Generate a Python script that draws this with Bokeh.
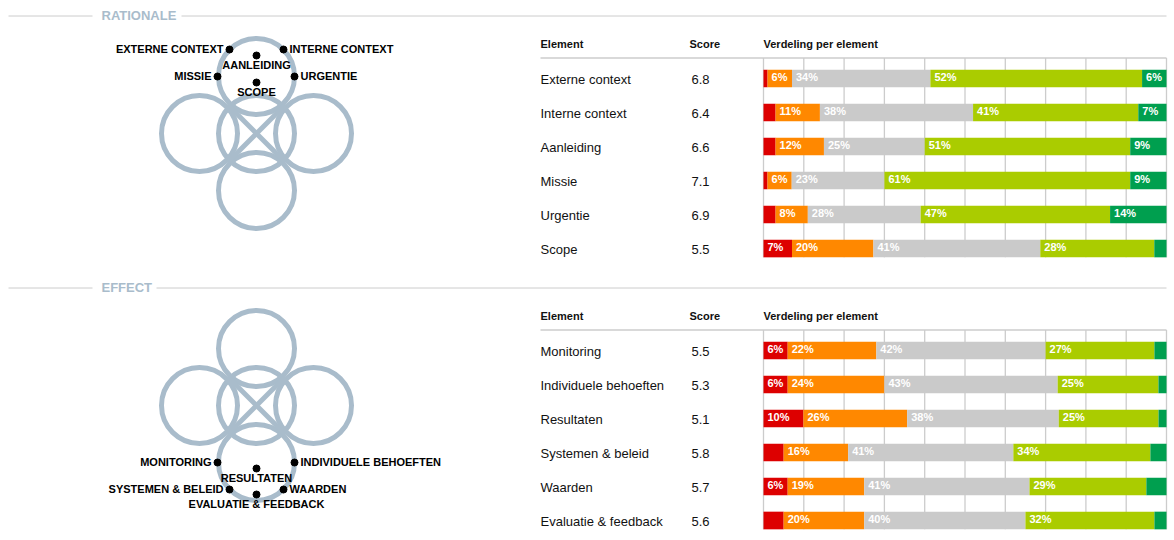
import numpy as np
from bokeh.plotting import figure
from bokeh.models import Range1d, ColumnDataSource
from bokeh.layouts import column
from bokeh.embed import file_html
from bokeh.resources import INLINE
from bokeh.core.properties import value

# ---------------- data ----------------
rat_elements = ["Externe context", "Interne context", "Aanleiding", "Missie", "Urgentie", "Scope"]
rat_scores = [6.8, 6.4, 6.6, 7.1, 6.9, 5.5]
rat_red = [1, 3, 3, 1, 3, 7]
rat_orange = [6, 11, 12, 6, 8, 20]
rat_grey = [34, 38, 25, 23, 28, 41]
rat_lgreen = [52, 41, 51, 61, 47, 28]
rat_dgreen = [6, 7, 9, 9, 14, 3]

eff_elements = ["Monitoring", "Individuele behoeften", "Resultaten", "Systemen & beleid", "Waarden", "Evaluatie & feedback"]
eff_scores = [5.5, 5.3, 5.1, 5.8, 5.7, 5.6]
eff_red = [6, 6, 10, 5, 6, 5]
eff_orange = [22, 24, 26, 16, 19, 20]
eff_grey = [42, 43, 38, 41, 41, 40]
eff_lgreen = [27, 25, 25, 34, 29, 32]
eff_dgreen = [3, 2, 2, 4, 5, 3]

rat_diagram_labels = ["EXTERNE CONTEXT", "INTERNE CONTEXT", "AANLEIDING", "MISSIE", "URGENTIE", "SCOPE"]
eff_diagram_labels = ["MONITORING", "INDIVIDUELE BEHOEFTEN", "RESULTATEN", "SYSTEMEN & BELEID", "WAARDEN", "EVALUATIE & FEEDBACK"]

header_labels = ["Element", "Score", "Verdeling per element"]
grid_ticks = list(range(0, 101, 10))

# ---------------- style / layout ----------------
FONT = "Liberation Sans"
W = 1174
BAR_X0, BAR_W = 763, 403
ROW0, ROW_H = 78, 34
BAR_HEIGHT = 0.52
COLORS = ["#dd0000", "#ff8800", "#cacaca", "#aacc00", "#009f4f"]
CIRCLE_COLOR = "#a9bccb"
LINE_COLOR = "#cccccc"
TEXT_COLOR = "#111111"

# diagram geometry (pixels within a section)
CX, CY, OFF, RAD = 256, 133, 57, 38

# label offsets from the anchoring circle, alignment
rat_diag = dict(anchor=(0, -OFF),
                dx=[-27, 27, 0, -39, 38, 0],
                dy=[-27, -27, -21, 0, 0, 6],
                align=["right", "left", "center", "right", "left", "center"])
eff_diag = dict(anchor=(0, OFF),
                dx=[-39, 38, 0, -27, 27, 0],
                dy=[0, 0, 6, 27, 27, 32],
                align=["right", "left", "center", "right", "left", "center"])


def make_section(title, line_start, H, elements, scores, parts, diag_labels, diag):
    p = figure(width=W, height=H, x_range=Range1d(0, W), y_range=Range1d(H, 0),
               output_backend="svg", toolbar_location=None,
               x_axis_type=None, y_axis_type=None, min_border=0)
    p.outline_line_color = None
    p.background_fill_color = "white"
    p.border_fill_color = "white"
    p.extra_x_ranges = {"pct": Range1d(-BAR_X0 / BAR_W * 100, (W - BAR_X0) / BAR_W * 100)}
    p.extra_y_ranges = {"rows": Range1d((H - ROW0) / ROW_H, -ROW0 / ROW_H)}

    # section header
    p.segment(x0=[8, line_start], x1=[92, 1166], y0=[15.5, 15.5], y1=[15.5, 15.5],
              line_color=LINE_COLOR, line_width=1)
    p.text(x=[101], y=[14.5], text=[title], text_font=value(FONT), text_font_style="bold",
           text_font_size="13px", text_color=CIRCLE_COLOR, text_baseline="middle")

    # diagram
    cxs = [CX, CX, CX - OFF, CX + OFF, CX]
    cys = [CY, CY - OFF, CY, CY, CY + OFF]
    p.circle(x=cxs, y=cys, radius=RAD, fill_color=None, line_color=CIRCLE_COLOR, line_width=5)
    d = 28.5
    p.segment(x0=[CX - d, CX + d], y0=[CY - d, CY - d], x1=[CX + d, CX - d], y1=[CY + d, CY + d],
              line_color=CIRCLE_COLOR, line_width=5)
    ax, ay = CX + diag["anchor"][0], CY + diag["anchor"][1]
    dot_x = [ax + v for v in diag["dx"]]
    dot_y = [ay + v for v in diag["dy"]]
    p.scatter(x=dot_x, y=dot_y, size=7, color="black")
    for lab, x, y, al in zip(diag_labels, dot_x, dot_y, diag["align"]):
        if al == "right":
            tx, ty = x - 6, y - 0.7
        elif al == "left":
            tx, ty = x + 6, y - 0.7
        else:
            tx, ty = x, y + 9
        p.text(x=[tx], y=[ty], text=[lab], text_font=value(FONT), text_font_style="bold",
               text_font_size="11px", text_color="black", text_align=al, text_baseline="middle")

    n = len(elements)
    idx = list(range(n))

    # table header
    p.text(x=[540, 689, BAR_X0], y=[-1, -1, -1], text=header_labels, y_range_name="rows",
           y_offset=-0.8,
           text_font=value(FONT), text_font_style="bold", text_font_size="11px",
           text_color=TEXT_COLOR, text_baseline="middle")
    p.segment(x0=[540], x1=[1166], y0=[-0.6], y1=[-0.6], y_range_name="rows",
              line_color=LINE_COLOR, line_width=1.5)

    # vertical grid lines
    p.segment(x0=grid_ticks, x1=grid_ticks, y0=[-0.6] * len(grid_ticks),
              y1=[n - 1 + BAR_HEIGHT / 2] * len(grid_ticks),
              x_range_name="pct", y_range_name="rows", line_color=LINE_COLOR, line_width=1.3)

    # element names and scores
    p.text(x=[540] * n, y=idx, text=elements, y_range_name="rows", text_font=value(FONT),
           y_offset=1.2,
           text_font_size="13px", text_color=TEXT_COLOR, text_baseline="middle")
    p.text(x=[691] * n, y=idx, text=[f"{s:.1f}" for s in scores], y_range_name="rows",
           y_offset=1.2,
           text_font=value(FONT), text_font_size="13px", text_color=TEXT_COLOR,
           text_baseline="middle")

    # stacked bars
    arr = np.array(parts, dtype=float)  # (5, n)
    totals = arr.sum(axis=0)
    norm = arr / totals * 100
    rights = np.cumsum(norm, axis=0)
    lefts = rights - norm
    for k, col in enumerate(COLORS):
        src = ColumnDataSource(dict(
            y=idx, left=lefts[k], right=rights[k],
            label=[f"{int(v)}%" if v >= 6 else "" for v in arr[k]]))
        p.hbar(y="y", left="left", right="right", height=BAR_HEIGHT, source=src,
               x_range_name="pct", y_range_name="rows", fill_color=col, line_color=None)
        p.text(x="left", y="y", text="label", source=src, x_offset=4, y_offset=-1.5,
               x_range_name="pct", y_range_name="rows", text_font=value(FONT),
               text_font_style="bold", text_font_size="11px", text_color="white",
               text_baseline="middle")
    return p


p1 = make_section("RATIONALE", 181, 272, rat_elements, rat_scores,
                  [rat_red, rat_orange, rat_grey, rat_lgreen, rat_dgreen],
                  rat_diagram_labels, rat_diag)
p2 = make_section("EFFECT", 156, 268, eff_elements, eff_scores,
                  [eff_red, eff_orange, eff_grey, eff_lgreen, eff_dgreen],
                  eff_diagram_labels, eff_diag)

layout = column(p1, p2, spacing=0)
open("out.html", "w").write(file_html(layout, INLINE))
